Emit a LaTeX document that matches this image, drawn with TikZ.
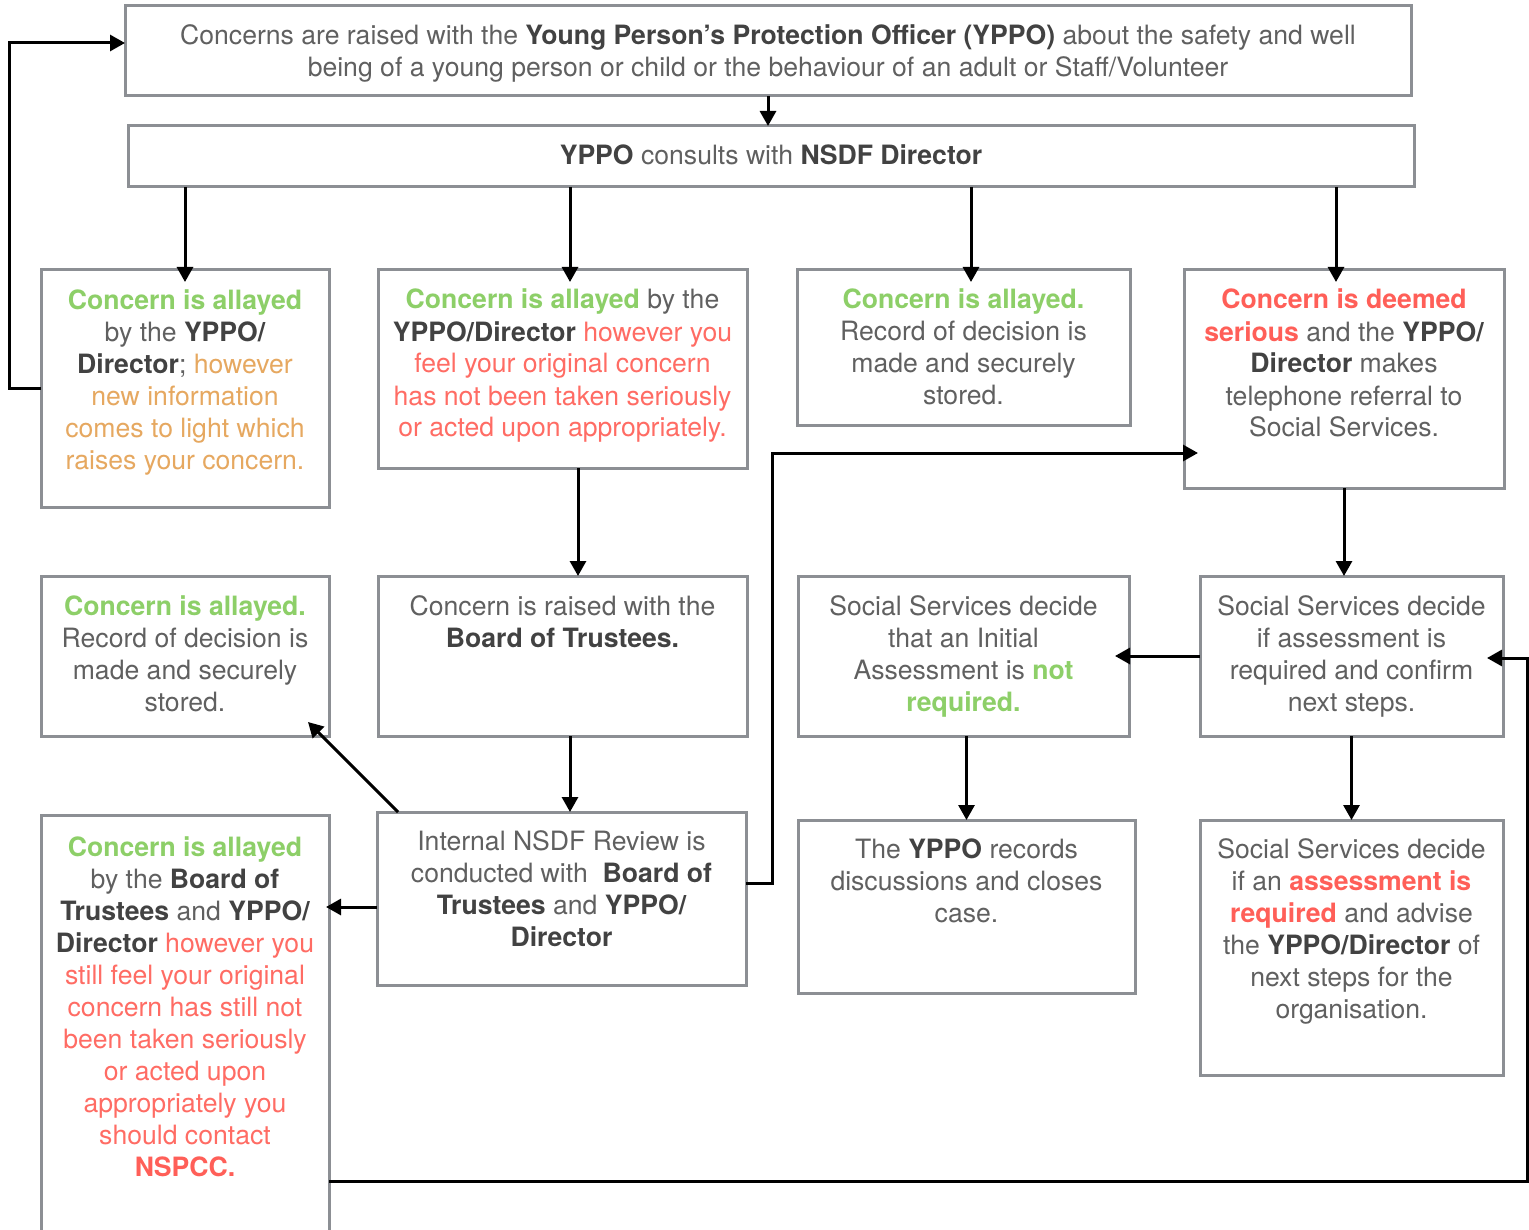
\documentclass[tikz,border=0pt]{standalone}
\usepackage{fontspec}
\setmainfont{TeX Gyre Heros}
\usetikzlibrary{arrows.meta,calc}
\definecolor{cgreen}{RGB}{141,207,104}
\definecolor{corange}{RGB}{230,168,96}
\definecolor{cred}{RGB}{255,108,100}
\definecolor{cbred}{RGB}{255,95,88}
\definecolor{cgray}{RGB}{96,96,96}
\definecolor{cdark}{RGB}{66,66,66}
\definecolor{cbox}{RGB}{140,143,148}
\newcommand{\myG}[1]{\textbf{\textcolor{cgreen}{#1}}}
\newcommand{\myK}[1]{\textbf{\textcolor{cdark}{#1}}}
\newcommand{\myO}[1]{\textcolor{corange}{#1}}
\newcommand{\myR}[1]{\textcolor{cred}{#1}}
\newcommand{\myRB}[1]{\textbf{\textcolor{cbred}{#1}}}
\begin{document}
\begin{tikzpicture}[x=1pt,y=-1pt,
  box/.style={draw=cbox, line width=3pt, rectangle, inner sep=0pt, outer sep=0pt, anchor=north west},
  txt/.style={align=center, inner sep=0pt, outer sep=0pt, anchor=north, text=cgray, font=\fontsize{26.6}{32}\selectfont},
  arr/.style={draw=black, line width=3pt, line join=miter, -{Triangle[length=15pt,width=16pt]}}]
\path[fill=white] (0,0) rectangle (1529,1230);
\useasboundingbox (0,0) rectangle (1529,1230);
% boxes
\node[box, minimum width=1286, minimum height=90] (top) at (125,6) {};
\node[box, minimum width=1286, minimum height=61] (yppo) at (128,126) {};
\node[box, minimum width=288, minimum height=237] (b1) at (41,270) {};
\node[box, minimum width=369, minimum height=198] (b2) at (378,270) {};
\node[box, minimum width=333, minimum height=156] (b3) at (797,270) {};
\node[box, minimum width=320, minimum height=218] (b4) at (1184,270) {};
\node[box, minimum width=288, minimum height=160] (b5) at (41,576) {};
\node[box, minimum width=369, minimum height=160] (b6) at (378,576) {};
\node[box, minimum width=331, minimum height=160] (b7) at (798,576) {};
\node[box, minimum width=303, minimum height=160] (b8) at (1200,576) {};
\node[box, minimum width=369, minimum height=173] (b9) at (377,812) {};
\node[box, minimum width=288, minimum height=440] (b10) at (41,815) {};
\node[box, minimum width=337, minimum height=173] (b11) at (798,820) {};
\node[box, minimum width=303, minimum height=255] (b12) at (1200,820) {};
% texts
\node[txt] (ttop) at ($(top.north)+(0,16.6)$) {\strut Concerns are raised with the \myK{Young Person’s Protection Officer (YPPO)} about the safety and well\\being of a young person or child or the behaviour of an adult or Staff/Volunteer};
\node[txt] (typpo) at ($(yppo.north)+(0,16.6)$) {\strut\myK{YPPO} consults with \myK{NSDF Director}};
\node[txt] (t1) at ($(b1.north)+(0,16.6)$) {\strut\myG{Concern is allayed}\\by the \myK{YPPO/}\\\myK{Director}; \myO{however}\\\myO{new information}\\\myO{comes to light which}\\\myO{raises your concern.}};
\node[txt] (t2) at ($(b2.north)+(0,16.6)$) {\strut\myG{Concern is allayed} by the\\\myK{YPPO/Director} \myR{however you}\\\myR{feel your original concern}\\\myR{has not been taken seriously}\\\myR{or acted upon appropriately.}};
\node[txt] (t3) at ($(b3.north)+(0,16.6)$) {\strut\myG{Concern is allayed.}\\Record of decision is\\made and securely\\stored.};
\node[txt] (t4) at ($(b4.north)+(0,16.6)$) {\strut\myRB{Concern is deemed}\\\myRB{serious} and the \myK{YPPO/}\\\myK{Director} makes\\telephone referral to\\Social Services.};
\node[txt] (t5) at ($(b5.north)+(0,16.6)$) {\strut\myG{Concern is allayed.}\\Record of decision is\\made and securely\\stored.};
\node[txt] (t6) at ($(b6.north)+(0,16.6)$) {\strut Concern is raised with the\\\myK{Board of Trustees.}};
\node[txt] (t7) at ($(b7.north)+(0,16.6)$) {\strut Social Services decide\\that an Initial\\Assessment is \myG{not}\\\myG{required.}};
\node[txt] (t8) at ($(b8.north)+(0,16.6)$) {\strut Social Services decide\\if assessment is\\required and confirm\\next steps.};
\node[txt] (t9) at ($(b9.north)+(0,15.6)$) {\strut Internal NSDF Review is\\conducted with\ \ \myK{Board of}\\\myK{Trustees} and \myK{YPPO/}\\\myK{Director}};
\node[txt] (t10) at ($(b10.north)+(0,18.6)$) {\strut\myG{Concern is allayed}\\by the \myK{Board of}\\\myK{Trustees} and \myK{YPPO/}\\\myK{Director} \myR{however you}\\\myR{still feel your original}\\\myR{concern has still not}\\\myR{been taken seriously}\\\myR{or acted upon}\\\myR{appropriately you}\\\myR{should contact}\\\myRB{NSPCC.}};
\node[txt] (t11) at ($(b11.north)+(0,15.6)$) {\strut The \myK{YPPO} records\\discussions and closes\\case.};
\node[txt] (t12) at ($(b12.north)+(0,15.6)$) {\strut Social Services decide\\if an \myRB{assessment is}\\\myRB{required} and advise\\the \myK{YPPO/Director} of\\next steps for the\\organisation.};
% helper coordinates
\coordinate (in2) at ($(b2.north)+(7.5,0)$);
\coordinate (in3) at ($(b3.north)+(7.5,0)$);
\coordinate (in4) at ($(b4.north)+(-8,0)$);
\coordinate (o2) at ($(b2.south)+(15.5,0)$);
\coordinate (o6) at ($(b6.south)+(7.5,0)$);
\coordinate (d9) at ($(b9.north west)+(21,0)$);
\coordinate (d5) at ($(b5.south east)+(-21,-14)$);
\coordinate (l9) at ($(b9.west)+(0,8.5)$);
\coordinate (r9) at ($(b9.east)+(0,-15.5)$);
\coordinate (e4) at ($(b4.west)+(0,74)$);
\coordinate (r10) at ($(b10.north east)+(0,366)$);
\coordinate (e8) at ($(b8.east)+(0,2)$);
\coordinate (e1) at ($(top.west)+(0,-8)$);
% connectors
\draw[arr] (b1.west) -- ++(-32,0) |- (e1);
\draw[arr] (top.south) -- (top.south |- yppo.north);
\draw[arr, shorten >=-12pt] (b1.north |- yppo.south) -- (b1.north);
\draw[arr, shorten >=-12pt] (in2 |- yppo.south) -- (in2);
\draw[arr, shorten >=-12pt] (in3 |- yppo.south) -- (in3);
\draw[arr, shorten >=-12pt] (in4 |- yppo.south) -- (in4);
\draw[arr] (o2) -- (o2 |- b6.north);
\draw[arr] (o6) -- (o6 |- b9.north);
\draw[arr] (d9) -- (d5);
\draw[arr, shorten >=-3pt] (l9) -- (l9 -| b10.east);
\draw[arr, shorten >=-14pt] (r9) -- ++(26,0) |- (e4);
\draw[arr] (b4.south) -- (b4.south |- b8.north);
\draw[arr, shorten >=-14pt] (b8.west) -- (b8.west -| b7.east);
\draw[arr] (b11.north |- b7.south) -- (b11.north);
\draw[arr] (b8.south) -- (b12.north);
\draw[arr, shorten >=-16pt] (r10) -- ++(1198,0) |- (e8);
\end{tikzpicture}
\end{document}
